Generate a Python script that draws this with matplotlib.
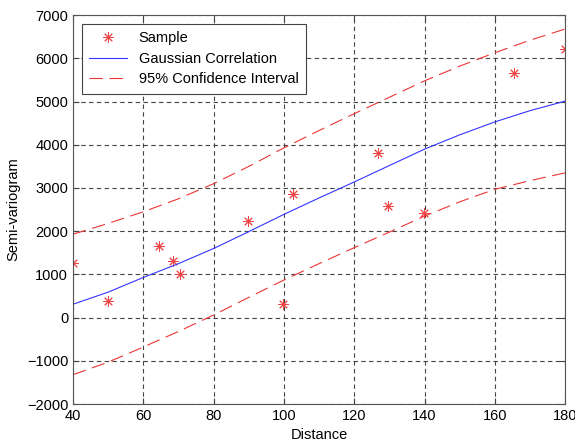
import matplotlib

matplotlib.use("Agg")
import matplotlib.pyplot as plt

plt.rcParams["font.family"] = ["Liberation Sans", "DejaVu Sans"]

# Sample semi-variogram points
sample_dist = [40, 50, 64.5, 68.5, 70.5, 89.7, 99.7, 102.7, 126.7, 129.7, 139.7, 165.5, 180]
sample_gamma = [1275, 375, 1660, 1320, 1010, 2235, 320, 2850, 3820, 2585, 2420, 5670, 6210]

# Fitted model and confidence band
fit_dist = [40, 50, 60, 70, 80, 90, 100, 110, 120, 130, 140, 150, 160, 170, 180]
fit_gamma = [310, 590, 930, 1250, 1600, 1990, 2390, 2770, 3140, 3520, 3900, 4230, 4530, 4790, 5010]
ci_upper = [1930, 2180, 2450, 2750, 3100, 3500, 3930, 4330, 4720, 5100, 5480, 5820, 6130, 6420, 6680]
ci_lower = [-1320, -1030, -680, -320, 60, 470, 870, 1250, 1620, 1980, 2350, 2680, 2970, 3170, 3350]

x_ticks = [40, 60, 80, 100, 120, 140, 160, 180]
y_ticks = [-2000, -1000, 0, 1000, 2000, 3000, 4000, 5000, 6000, 7000]

fig = plt.figure(figsize=(5.75, 4.45), dpi=100)
ax = fig.add_axes([0.127, 0.092, 0.856, 0.874])

# MATLAB-style asterisk marker
ax.plot(sample_dist, sample_gamma, linestyle="none", marker=(8, 2, 0),
        color="#ee4545", markersize=7.5, markeredgewidth=0.7, label="Sample")
ax.plot(fit_dist, fit_gamma, "-", color="#3535ff", linewidth=0.8,
        label="Gaussian Correlation")
ax.plot(fit_dist, ci_upper, color="#ee3535", linewidth=0.8,
        dashes=(12, 6), label="95% Confidence Interval")
ax.plot(fit_dist, ci_lower, color="#ee3535", linewidth=0.8, dashes=(12, 6))

ax.set_xlim(40, 180)
ax.set_ylim(-2000, 7000)
ax.set_xticks(x_ticks)
ax.set_yticks(y_ticks)
ax.grid(True, color="#444444", linestyle=(0, (4, 3)), linewidth=0.8)
ax.tick_params(direction="in", top=True, right=True, labelsize=10.5,
               length=4, color="#444444")
for s in ax.spines.values():
    s.set_color("#555555")
    s.set_linewidth(0.8)

ax.set_xlabel("Distance", fontsize=10.5, labelpad=4)
ax.set_ylabel("Semi-variogram", fontsize=10.5, labelpad=5)

leg = ax.legend(loc="upper left", fontsize=10.5, fancybox=False,
                framealpha=1, edgecolor="#444444", borderpad=0.5,
                handlelength=2.6, labelspacing=0.45, borderaxespad=0.6)
leg.get_frame().set_linewidth(0.8)

fig.savefig("out.png", dpi=100)
